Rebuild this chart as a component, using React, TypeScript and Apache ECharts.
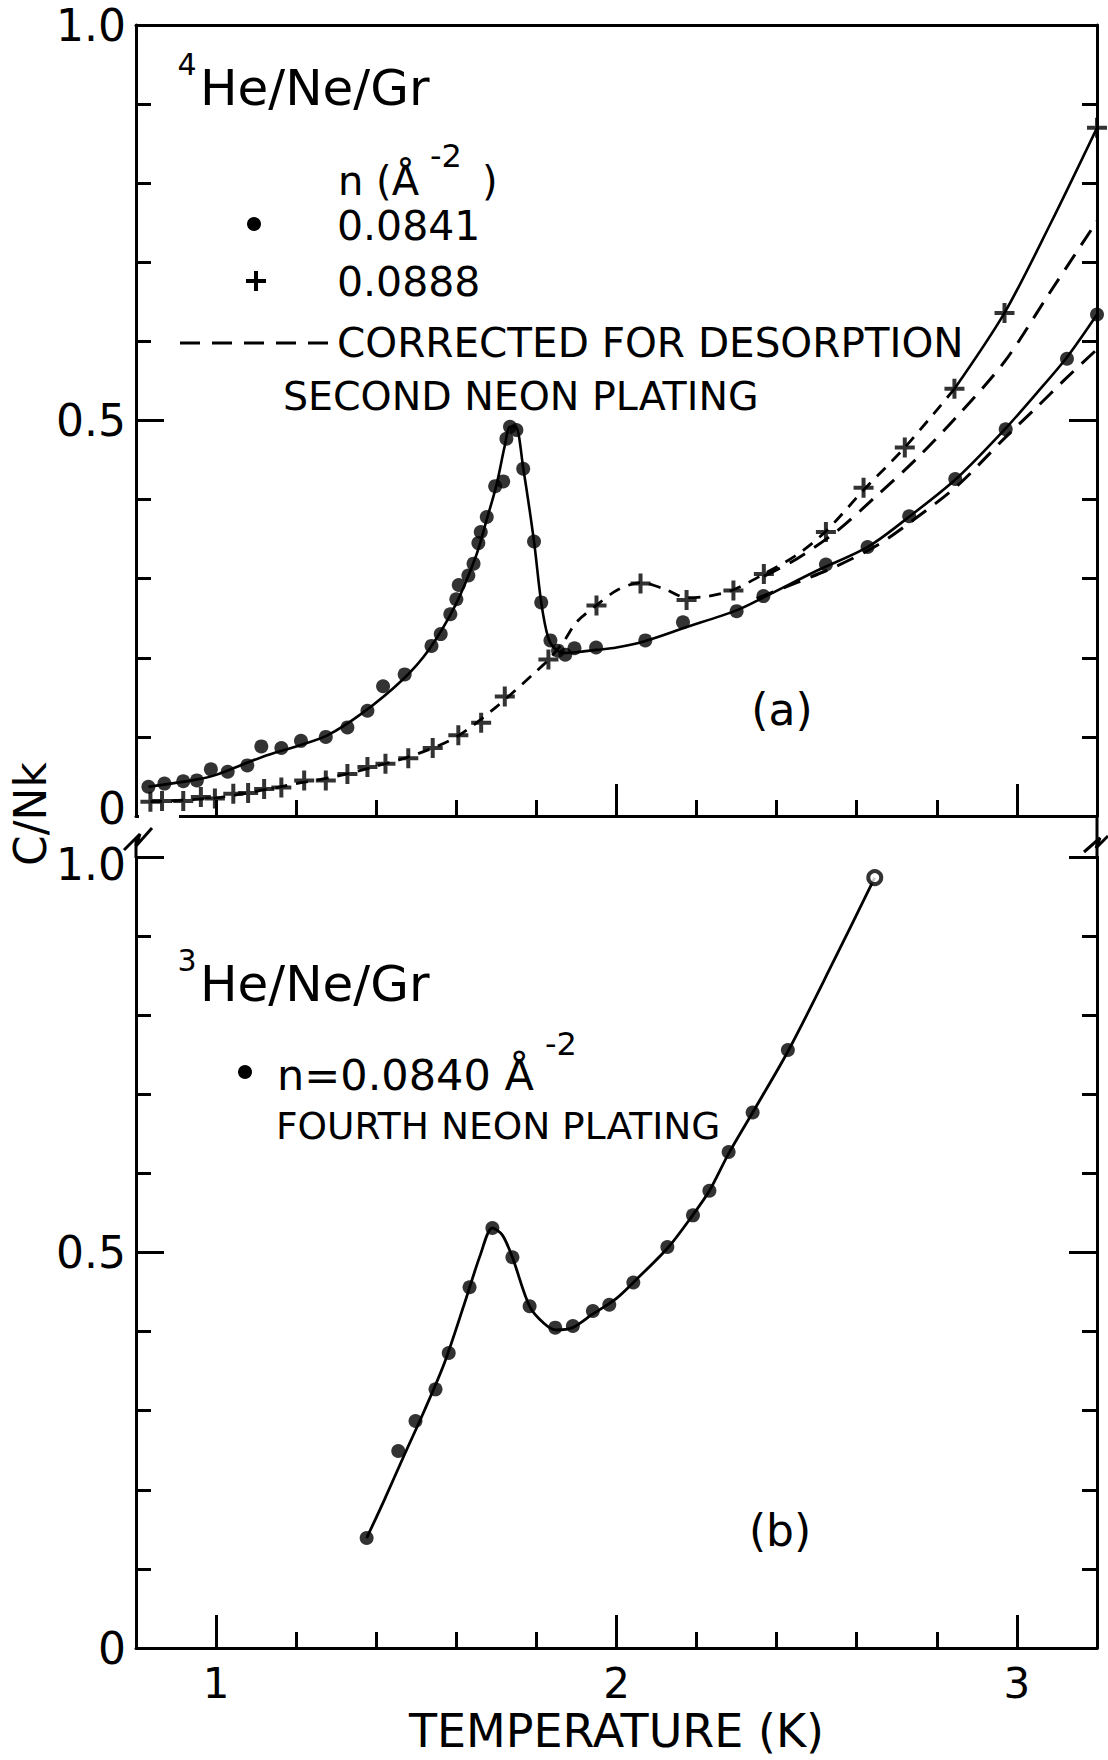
import React, { useEffect, useRef } from "react";
import * as echarts from "echarts";

const FONT = '"DejaVu Sans", "Liberation Sans", sans-serif';
const INK = "#000";

// ---- axis ranges and ticks ----
const X_MIN = 0.8;
const X_MAX = 3.2;
const xMinorTicksA = [1.0, 1.2, 1.4, 1.6, 1.8, 2.2, 2.4, 2.6, 2.8];
const xMajorTicksA = [2, 3];
const xMinorTicksB = [1.2, 1.4, 1.6, 1.8, 2.2, 2.4, 2.6, 2.8];
const xMajorTicksB = [1, 2, 3];
const xLabelsB = [1, 2, 3];
// y labels drawn by the axes (the two labels that meet at the panel break are placed by hand)
const yLabelsA = [0.5, 1];
const yLabelsB = [0, 0.5];

// ---- panel (a): 4He/Ne/Gr, second neon plating ----
// n = 0.0841 (dots)
const dotsA0841: [number, number][] = [
  [0.831, 0.037], [0.871, 0.041], [0.918, 0.044], [0.952, 0.045], [0.987, 0.059],
  [1.029, 0.056], [1.078, 0.064], [1.113, 0.088], [1.163, 0.086], [1.212, 0.095],
  [1.274, 0.1], [1.328, 0.112], [1.378, 0.133], [1.417, 0.164], [1.471, 0.179],
  [1.538, 0.215], [1.561, 0.23], [1.585, 0.255], [1.6, 0.274], [1.606, 0.292],
  [1.63, 0.304], [1.643, 0.319], [1.655, 0.345], [1.661, 0.359], [1.676, 0.378],
  [1.697, 0.417], [1.717, 0.423], [1.725, 0.477], [1.734, 0.492], [1.75, 0.488],
  [1.767, 0.439], [1.794, 0.347], [1.812, 0.27], [1.835, 0.222], [1.854, 0.209],
  [1.872, 0.204], [1.895, 0.212], [1.949, 0.213], [2.072, 0.222], [2.166, 0.245],
  [2.3, 0.259], [2.367, 0.278], [2.523, 0.318], [2.627, 0.34], [2.731, 0.379],
  [2.846, 0.426], [2.972, 0.489], [3.125, 0.578], [3.2, 0.634],
];
// n = 0.0888 (crosses)
const crossA0888: [number, number][] = [
  [0.836, 0.018], [0.865, 0.019], [0.918, 0.019], [0.962, 0.024], [0.997, 0.022],
  [1.043, 0.028], [1.08, 0.029], [1.12, 0.034], [1.163, 0.036], [1.22, 0.045],
  [1.274, 0.045], [1.328, 0.053], [1.378, 0.062], [1.423, 0.066], [1.48, 0.073],
  [1.541, 0.086], [1.605, 0.102], [1.662, 0.118], [1.721, 0.151], [1.83, 0.198],
  [1.95, 0.266], [2.06, 0.294], [2.175, 0.273], [2.292, 0.285], [2.368, 0.306],
  [2.523, 0.359], [2.617, 0.415], [2.72, 0.466], [2.844, 0.54], [2.969, 0.636],
  [3.2, 0.87],
];
// drawn curves
const curveA0841: [number, number][] = [
  [0.831, 0.037], [0.95, 0.046], [1.0, 0.052], [1.117, 0.075], [1.2, 0.088],
  [1.278, 0.102], [1.365, 0.13], [1.465, 0.172], [1.531, 0.21], [1.597, 0.266],
  [1.65, 0.33], [1.676, 0.375], [1.7, 0.418], [1.721, 0.468], [1.734, 0.492],
  [1.748, 0.492], [1.767, 0.44], [1.794, 0.347], [1.812, 0.27], [1.829, 0.226],
  [1.845, 0.212], [1.87, 0.206], [1.9, 0.207], [1.95, 0.21], [2.0, 0.213],
  [2.07, 0.221], [2.17, 0.238], [2.3, 0.26], [2.37, 0.277], [2.5, 0.31],
  [2.63, 0.341], [2.73, 0.378], [2.85, 0.427], [2.97, 0.489], [3.05, 0.535],
  [3.125, 0.58], [3.2, 0.634],
];
const curveA0888Low: [number, number][] = [
  [0.836, 0.018], [1.0, 0.023], [1.1, 0.031], [1.2, 0.041], [1.3, 0.05],
  [1.4, 0.063], [1.5, 0.078], [1.6, 0.1], [1.7, 0.138], [1.8, 0.183],
  [1.833, 0.199], [1.87, 0.222], [1.9, 0.245], [1.949, 0.266], [2.0, 0.285],
  [2.06, 0.295], [2.12, 0.287], [2.175, 0.276], [2.23, 0.278], [2.292, 0.286],
  [2.368, 0.306], [2.45, 0.33], [2.523, 0.36], [2.617, 0.412], [2.72, 0.466],
  [2.844, 0.54],
];
const curveA0888High: [number, number][] = [
  [2.844, 0.54], [2.969, 0.636], [3.085, 0.75], [3.2, 0.87],
];
// corrected for desorption (dashed)
const correctedA0841: [number, number][] = [
  [2.35, 0.275], [2.45, 0.295], [2.55, 0.316], [2.65, 0.342], [2.73, 0.37],
  [2.85, 0.417], [2.97, 0.478], [3.05, 0.517], [3.12, 0.552], [3.2, 0.59],
];
const correctedA0888: [number, number][] = [
  [2.368, 0.303], [2.45, 0.325], [2.55, 0.36], [2.65, 0.405], [2.75, 0.452],
  [2.85, 0.505], [2.97, 0.575], [3.08, 0.66], [3.2, 0.752],
];

// ---- panel (b): 3He/Ne/Gr, fourth neon plating, n = 0.0840 ----
const dotsB0840: [number, number][] = [
  [1.376, 0.139], [1.455, 0.249], [1.498, 0.287], [1.548, 0.327], [1.581, 0.373],
  [1.633, 0.456], [1.69, 0.531], [1.74, 0.494], [1.783, 0.432], [1.847, 0.405],
  [1.891, 0.407], [1.941, 0.426], [1.982, 0.434], [2.042, 0.462], [2.127, 0.507],
  [2.191, 0.547], [2.232, 0.578], [2.28, 0.627], [2.34, 0.677], [2.428, 0.756],
];
const openB0840: [number, number][] = [[2.645, 0.974]];
const curveB0840: [number, number][] = [
  [1.376, 0.139], [1.42, 0.187], [1.47, 0.244], [1.52, 0.3], [1.57, 0.36],
  [1.62, 0.435], [1.66, 0.497], [1.69, 0.531], [1.715, 0.522], [1.74, 0.494],
  [1.783, 0.432], [1.82, 0.41], [1.85, 0.402], [1.89, 0.405], [1.94, 0.422],
  [2.0, 0.442], [2.05, 0.466], [2.13, 0.507], [2.19, 0.547], [2.232, 0.578],
  [2.28, 0.625], [2.34, 0.677], [2.43, 0.756], [2.54, 0.866], [2.645, 0.974],
];

const PLUS_PATH = "path://M8,0H12V8H20V12H12V20H8V12H0V8H8Z";

const lineW = { color: INK, width: 3 };
const fmtY = (v: number) => (v === 0 ? "0" : v.toFixed(1));

function yFrame(gridIndex: number, position: "left" | "right", labels: number[] | null) {
  return {
    type: "value",
    gridIndex,
    position,
    min: 0,
    max: 1,
    interval: 0.5,
    axisLine: { show: true, onZero: false, lineStyle: lineW },
    axisTick: { show: true, inside: true, length: 28, lineStyle: lineW },
    minorTick: { show: true, splitNumber: 5, length: 15, lineStyle: lineW },
    axisLabel: labels
      ? {
          show: true,
          customValues: labels,
          margin: 10,
          color: INK,
          fontFamily: FONT,
          fontSize: 44,
          formatter: fmtY,
        }
      : { show: false },
    splitLine: { show: false },
    minorSplitLine: { show: false },
  };
}

function xAxisOf(gridIndex: number, position: "top" | "bottom", o: any) {
  return {
    type: "value",
    gridIndex,
    position,
    min: X_MIN,
    max: X_MAX,
    splitLine: { show: false },
    axisLine: { show: !!o.line, onZero: false, lineStyle: lineW },
    axisTick: o.ticks
      ? { show: true, inside: true, length: o.tickLen, customValues: o.ticks, lineStyle: lineW }
      : { show: false },
    axisLabel: o.labels
      ? {
          show: true,
          customValues: o.labels,
          margin: 14,
          color: INK,
          fontFamily: FONT,
          fontSize: 42,
          lineHeight: 42,
          formatter: (v: number) => String(Math.round(v)),
        }
      : { show: false },
    ...(o.name
      ? {
          name: o.name,
          nameLocation: "middle",
          nameGap: 60,
          nameTextStyle: { color: INK, fontFamily: FONT, fontSize: 46, lineHeight: 46 },
        }
      : {}),
  };
}

function txt(text: string, x: number, y: number, size: number, align = "left", extra: any = {}) {
  return {
    type: "text",
    x,
    y,
    z: 10,
    ...extra,
    style: {
      text,
      x: 0,
      y: 0,
      fill: INK,
      fontFamily: FONT,
      fontSize: size,
      lineHeight: size,
      textAlign: align,
      align,
      textVerticalAlign: "middle",
      verticalAlign: "middle",
    },
  };
}

function plusMark(cx: number, cy: number, h: number) {
  return {
    type: "group",
    z: 10,
    children: [
      { type: "line", shape: { x1: cx - h, y1: cy, x2: cx + h, y2: cy }, style: { stroke: INK, lineWidth: 4 } },
      { type: "line", shape: { x1: cx, y1: cy - h, x2: cx, y2: cy + h }, style: { stroke: INK, lineWidth: 4 } },
    ],
  };
}

export default function App() {
  const ref = useRef<HTMLDivElement>(null);

  useEffect(() => {
    if (!ref.current) return;
    const chart = echarts.init(ref.current, undefined, { renderer: "svg" });

    const solid = (data: [number, number][], xi: number, yi: number, width = 2.6) => ({
      type: "line",
      xAxisIndex: xi,
      yAxisIndex: yi,
      data,
      smooth: 0.3,
      showSymbol: false,
      symbol: "none",
      lineStyle: { color: INK, width, type: "solid" },
      z: 3,
    });
    const dashed = (data: [number, number][], xi: number, yi: number, dash: number[], width = 3) => ({
      type: "line",
      xAxisIndex: xi,
      yAxisIndex: yi,
      data,
      smooth: 0.3,
      showSymbol: false,
      symbol: "none",
      lineStyle: { color: INK, width, type: dash },
      z: 3,
    });

    const option: any = {
      animation: false,
      backgroundColor: "#fff",
      grid: [
        { left: 136, top: 25, width: 961, height: 791 },
        { left: 136, top: 857, width: 961, height: 791 },
      ],
      xAxis: [
        xAxisOf(0, "bottom", { line: true, ticks: xMinorTicksA, tickLen: 16 }),
        xAxisOf(0, "bottom", { line: false, ticks: xMajorTicksA, tickLen: 32 }),
        xAxisOf(0, "top", { line: true }),
        xAxisOf(1, "bottom", { line: true, ticks: xMinorTicksB, tickLen: 16 }),
        xAxisOf(1, "bottom", {
          line: false,
          ticks: xMajorTicksB,
          tickLen: 33,
          labels: xLabelsB,
          name: "TEMPERATURE (K)",
        }),
      ],
      yAxis: [yFrame(0, "left", yLabelsA), yFrame(0, "right", null), yFrame(1, "left", yLabelsB), yFrame(1, "right", null)],
      series: [
        solid(curveA0841, 0, 0),
        dashed(curveA0888Low, 0, 0, [12, 9], 2.8),
        solid(curveA0888High, 0, 0),
        dashed(correctedA0841, 0, 0, [18, 11]),
        dashed(correctedA0888, 0, 0, [18, 11]),
        {
          type: "scatter",
          xAxisIndex: 0,
          yAxisIndex: 0,
          data: dotsA0841,
          symbol: "circle",
          symbolSize: 14,
          itemStyle: { color: INK },
          z: 4,
        },
        {
          type: "scatter",
          xAxisIndex: 0,
          yAxisIndex: 0,
          data: crossA0888,
          symbol: PLUS_PATH,
          symbolSize: 20,
          itemStyle: { color: INK },
          z: 4,
        },
        solid(curveB0840, 3, 2, 2.8),
        {
          type: "scatter",
          xAxisIndex: 3,
          yAxisIndex: 2,
          data: dotsB0840,
          symbol: "circle",
          symbolSize: 14,
          itemStyle: { color: INK },
          z: 4,
        },
        {
          type: "scatter",
          xAxisIndex: 3,
          yAxisIndex: 2,
          data: openB0840,
          symbol: "circle",
          symbolSize: 13,
          itemStyle: { color: "#fff", borderColor: INK, borderWidth: 4 },
          z: 4,
        },
      ],
      graphic: [
        // axis-break details between the two panels
        { type: "rect", z: 1, shape: { x: 139, y: 812, width: 40, height: 8 }, style: { fill: "#fff" } },
        { type: "line", z: 1, shape: { x1: 136, y1: 838, x2: 136, y2: 858 }, style: { stroke: INK, lineWidth: 3 } },
        { type: "polyline", z: 1, shape: { points: [[124, 850], [140, 834], [136, 846], [152, 828]] }, style: { stroke: INK, lineWidth: 3, fill: null } },
        { type: "line", z: 1, shape: { x1: 1097, y1: 816, x2: 1097, y2: 858 }, style: { stroke: INK, lineWidth: 3 } },
        { type: "polyline", z: 1, shape: { points: [[1084, 852], [1100, 838], [1096, 848], [1108, 836]] }, style: { stroke: INK, lineWidth: 3, fill: null } },

        // y labels at the break (top panel 0, bottom panel 1.0)
        txt(fmtY(0), 126, 808, 44, "right"),
        txt(fmtY(1), 126, 864, 44, "right"),

        // panel (a) annotations
        txt("4", 187, 64, 30, "center"),
        txt("He/Ne/Gr", 200, 88, 50),
        txt("n (Å", 338, 181, 40),
        txt("-2", 430, 156, 32),
        txt(")", 482, 181, 40),
        { type: "circle", z: 10, shape: { cx: 254, cy: 224, r: 7 }, style: { fill: INK } },
        txt("0.0841", 337, 226, 41),
        plusMark(256, 281, 10),
        txt("0.0888", 337, 282, 41),
        { type: "line", z: 10, shape: { x1: 180, y1: 343, x2: 331, y2: 343 }, style: { stroke: INK, lineWidth: 3, lineDash: [20, 12] } },
        txt("CORRECTED FOR DESORPTION", 337, 343, 40.5),
        txt("SECOND NEON PLATING", 283, 396, 39.5),
        txt("(a)", 782, 709, 44, "center"),

        // panel (b) annotations
        txt("3", 187, 960, 30, "center"),
        txt("He/Ne/Gr", 200, 984, 50),
        { type: "circle", z: 10, shape: { cx: 245, cy: 1072, r: 7 }, style: { fill: INK } },
        txt("n=0.0840 Å", 277, 1075, 43),
        txt("-2", 545, 1044, 32),
        txt("FOURTH NEON PLATING", 276, 1126, 37.5),
        txt("(b)", 780, 1530, 44, "center"),

        // shared y-axis title
        txt("C/Nk", 30, 814, 44, "center", { rotation: Math.PI / 2 }),
      ],
    };

    chart.setOption(option);
    return () => chart.dispose();
  }, []);

  return (
    <div
      ref={ref}
      style={{ position: "absolute", left: 0, top: 0, width: 1108, height: 1760, background: "#fff" }}
    />
  );
}
